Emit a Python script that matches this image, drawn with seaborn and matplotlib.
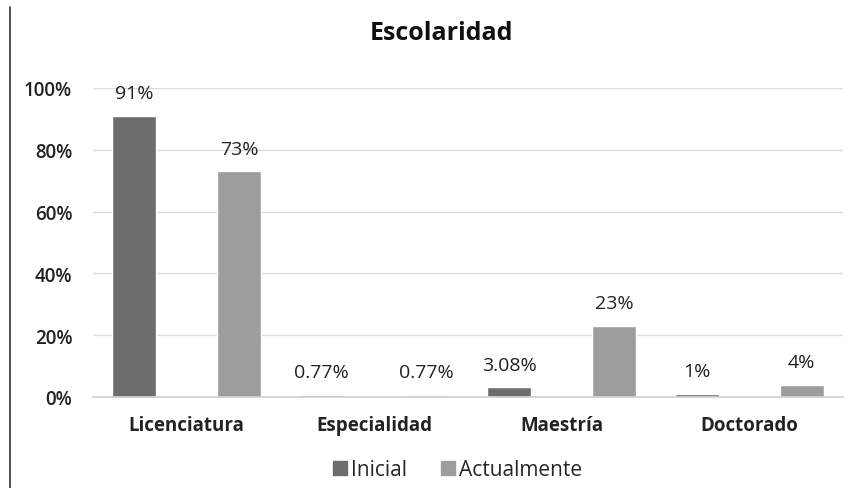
import matplotlib
matplotlib.use("Agg")
import matplotlib.pyplot as plt
from matplotlib.lines import Line2D
import seaborn as sns
import pandas as pd

categories = ["Licenciatura", "Especialidad", "Maestría", "Doctorado"]
inicial = [91, 0.77, 3.08, 1]
actualmente = [73, 0.77, 23, 4]
inicial_labels = ["91%", "0.77%", "3.08%", "1%"]
actualmente_labels = ["73%", "0.77%", "23%", "4%"]
series = ["Inicial", "Actualmente"]
yticks = [0, 20, 40, 60, 80, 100]

df = pd.DataFrame({
    "Escolaridad": categories * 2,
    "Serie": [series[0]] * 4 + [series[1]] * 4,
    "Valor": inicial + actualmente,
    "Etiqueta": inicial_labels + actualmente_labels,
})

sns.set_theme(style="white")
plt.rcParams["font.family"] = ["Open Sans", "DejaVu Sans"]

fig = plt.figure(figsize=(8.49, 4.89), dpi=100)
ax = fig.add_axes([93 / 849, 91 / 489, 750 / 849, 309 / 489])

palette = {"Inicial": "#6d6d6d", "Actualmente": "#9d9d9d"}
sns.barplot(data=df, x="Escolaridad", y="Valor", hue="Serie", palette=palette,
            width=1.12, gap=0.58, ax=ax, legend=False, saturation=1)

for cont, labels in zip(ax.containers, [inicial_labels, actualmente_labels]):
    ax.bar_label(cont, labels=labels, padding=10, fontsize=14, color="#222222")

ax.set_ylim(0, 100)
ax.set_xlim(-0.5, 3.5)
ax.set_yticks(yticks)
ax.set_yticklabels([f"{t}%" for t in yticks], fontsize=13.5, fontweight="semibold", color="#222222")
ax.set_xticks(range(len(categories)))
ax.set_xticklabels(categories, fontsize=13.5, fontweight="bold", color="#222222")
ax.tick_params(axis="x", length=0, pad=13)
ax.tick_params(axis="y", length=0, pad=15)
ax.set_xlabel("")
ax.set_ylabel("")
ax.yaxis.grid(True, color="#dcdcdc", linewidth=1)
ax.set_axisbelow(True)
for s in ["top", "right", "left"]:
    ax.spines[s].set_visible(False)
ax.spines["bottom"].set_color("#d0d0d0")

fig.text(441 / 849, 1 - 34 / 489, "Escolaridad", ha="center", va="center",
         fontsize=18, fontweight="bold", color="#111111")

handles = [Line2D([], [], marker="s", linestyle="", markersize=10,
                  color=palette[s]) for s in series]
fig.legend(handles, series, loc="center", bbox_to_anchor=(456 / 849, 1 - 471 / 489),
           ncol=2, frameon=False, fontsize=15, handletextpad=0.0, columnspacing=1.5,
           handlelength=1.0)

fig.add_artist(Line2D([10 / 849, 10 / 849], [0, 1 - 8 / 489], color="#333333", linewidth=1.2))

fig.savefig("out.png", dpi=100, facecolor="white")
